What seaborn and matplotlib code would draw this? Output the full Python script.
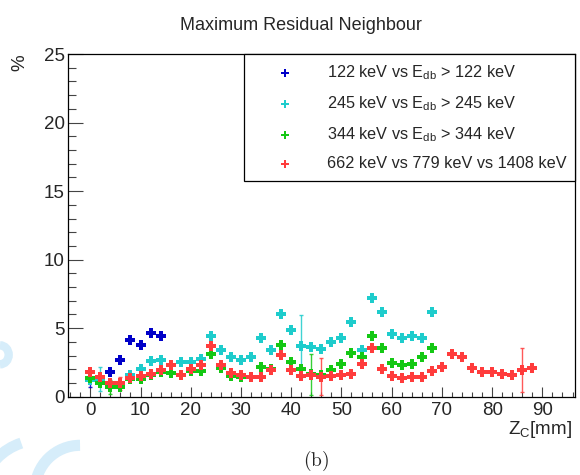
import numpy as np
import pandas as pd
import matplotlib
matplotlib.use("Agg")
import matplotlib.pyplot as plt
from matplotlib.ticker import MultipleLocator
from matplotlib.patches import Arc
import seaborn as sns

# values
blue_x = [0, 2, 4, 6, 8, 10, 12, 14]
blue_y = [1.3, 1.2, 1.82, 2.67, 4.13, 3.77, 4.62, 4.42]
blue_err = [0.6, 0, 0, 0, 0, 0, 0, 0]

cyan_x = list(range(0, 70, 2))
cyan_y = [1.2, 1.3, 0.9, 1.0, 1.58, 2.0, 2.62, 2.67, 2.3, 2.55,
          2.5, 2.72, 4.45, 3.4, 2.92, 2.67, 2.92, 4.25, 3.4, 6.0,
          4.86, 3.7, 3.65, 3.45, 4.0, 4.25, 5.47, 3.4, 7.17, 6.15,
          4.57, 4.25, 4.45, 4.3, 6.2]
cyan_err = [0] * len(cyan_x)
cyan_err[1] = 0.9
cyan_err[21] = 2.25

green_x = list(range(0, 70, 2))
green_y = [1.34, 0.97, 0.73, 0.68, 1.3, 1.3, 1.55, 1.8, 1.7, 1.55,
           1.9, 1.87, 3.1, 2.1, 1.5, 1.41, 1.46, 2.14, 2.0, 3.77,
           2.55, 2.0, 1.65, 1.6, 1.95, 2.36, 3.16, 2.92, 4.42, 3.55,
           2.43, 2.31, 2.38, 2.87, 3.57]
green_err = [0] * len(green_x)
green_err[2] = 0.5
green_err[22] = 1.5

red_x = list(range(0, 90, 2))
red_y = [1.82, 1.46, 0.97, 0.97, 1.4, 1.5, 1.65, 1.96, 2.3, 1.6,
         2.0, 2.3, 3.7, 2.3, 1.7, 1.6, 1.46, 1.46, 1.95, 3.04,
         1.95, 1.5, 1.56, 1.46, 1.5, 1.56, 1.65, 2.38, 3.53, 2.02,
         1.5, 1.34, 1.41, 1.46, 1.9, 2.14, 3.11, 2.92, 2.11, 1.78,
         1.78, 1.65, 1.58, 1.95, 2.07]
red_err = [0] * len(red_x)
red_err[3] = 0.46
red_err[23] = 1.35
red_err[43] = 1.6

labels = [r"122 keV vs $\mathrm{E_{db}}$ > 122 keV",
          r"245 keV vs $\mathrm{E_{db}}$ > 245 keV",
          r"344 keV vs $\mathrm{E_{db}}$ > 344 keV",
          "662 keV vs 779 keV vs 1408 keV"]
colors = ["#0000c8", "#1ecccc", "#14c814", "#ff3c3c"]

series = [(blue_x, blue_y, blue_err), (cyan_x, cyan_y, cyan_err),
          (green_x, green_y, green_err), (red_x, red_y, red_err)]

sns.set_style("ticks")
plt.rcParams["font.family"] = ["Liberation Sans", "DejaVu Sans"]
plt.rcParams["mathtext.fontset"] = "custom"
plt.rcParams["mathtext.rm"] = "Liberation Sans"
plt.rcParams["mathtext.it"] = "Liberation Sans:italic"
plt.rcParams["mathtext.bf"] = "Liberation Sans:bold"

fig = plt.figure(figsize=(5.8, 4.75), dpi=100)
ax = fig.add_axes([0.1167, 0.1648, 0.8747, 0.7215])

# faint watermark pieces like in the scanned page
for (cx, cy, w, h, t1, t2, lw) in [(0.069, -0.053, 0.207, 0.253, 105, 160, 8),
                                   (0.138, -0.032, 0.155, 0.189, 90, 180, 8),
                                   (0.0, 0.253, 0.03, 0.04, 270, 90, 6)]:
    fig.patches.append(Arc((cx, cy), w, h, theta1=t1, theta2=t2,
                           transform=fig.transFigure, color="#d6edfa",
                           lw=lw, zorder=0))

for (xs, ys, es), lab, col in zip(series, labels, colors):
    df = pd.DataFrame({"z": xs, "v": ys, "e": es})
    sub = df[df["e"] > 0]
    if len(sub):
        ax.errorbar(sub["z"], sub["v"], yerr=sub["e"], fmt="none",
                    ecolor=col, elinewidth=1, capsize=1.6, alpha=0.85, zorder=2)
    sns.scatterplot(data=df, x="z", y="v", ax=ax, color=col, marker="P",
                    s=48, linewidth=0, label=lab, zorder=3)

ax.set_xlim(-4.5, 96.5)
ax.set_ylim(0, 25)
ax.xaxis.set_major_locator(MultipleLocator(10))
ax.xaxis.set_minor_locator(MultipleLocator(2))
ax.yaxis.set_major_locator(MultipleLocator(5))
ax.yaxis.set_minor_locator(MultipleLocator(1))
ax.tick_params(axis="x", which="major", direction="in", length=7.2, width=0.8,
               labelsize=13.5, pad=3.5, color="#444444")
ax.tick_params(axis="x", which="minor", direction="in", length=3.6, width=0.8,
               color="#444444")
ax.tick_params(axis="y", which="major", direction="in", length=10.8, width=0.8,
               labelsize=13.5, pad=2, color="#444444")
ax.tick_params(axis="y", which="minor", direction="in", length=5.8, width=0.8,
               color="#444444")
for sp in ax.spines.values():
    sp.set_visible(True)
    sp.set_linewidth(0.9)
    sp.set_color("black")

ax.set_xlabel(r"$\mathrm{Z_{C}[mm]}$", fontsize=13.5, ha="right", va="top")
ax.xaxis.set_label_coords(0.994, -0.064)
ax.set_ylabel("%", fontsize=13.5, ha="right", va="bottom")
ax.yaxis.set_label_coords(-0.078, 1.0)

leg = ax.legend(loc="upper right", bbox_to_anchor=(0.3475, 0.6236, 0.6525, 0.3764),
                mode="expand", borderaxespad=0, fontsize=11.7, frameon=True,
                fancybox=False, edgecolor="black", framealpha=1,
                borderpad=0.6, handlelength=3.8, handletextpad=0.7,
                labelspacing=0.75, markerscale=0.8)
leg.get_frame().set_linewidth(0.9)

fig.text(301 / 580, 1 - 25 / 475, "Maximum Residual Neighbour", ha="center",
         va="center", fontsize=13)
fig.text(316 / 580, 1 - 461 / 475, r"$\mathrm{(b)}$", ha="center", va="center",
         fontsize=14, math_fontfamily="cm")

fig.savefig("out.png", dpi=100)
